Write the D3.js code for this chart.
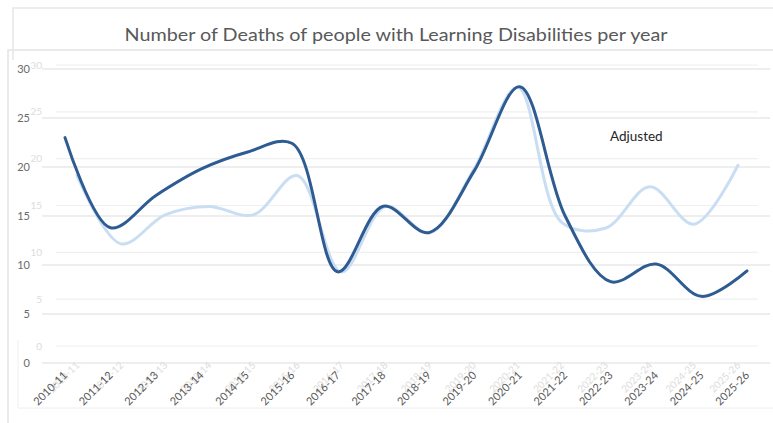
<!DOCTYPE html>
<html>
<head>
<meta charset="utf-8">
<script src="https://cdn.jsdelivr.net/npm/d3@7"></script>
<style>
  html, body { margin: 0; padding: 0; background: #fff; }
  svg { display: block; font-family: "Lato", "Open Sans", sans-serif; }
</style>
</head>
<body>
<svg id="chart" width="773" height="423"></svg>
<script>
const categories = ["2010-11","2011-12","2012-13","2013-14","2014-15","2015-16","2016-17","2017-18",
  "2018-19","2019-20","2020-21","2021-22","2022-23","2023-24","2024-25","2025-26"];
const actual   = [23.0, 13.8, 17.1, 19.8, 21.5, 22.4, 9.3, 16.0, 13.3, 19.6, 28.2, 15.0, 8.3, 10.1, 6.8, 9.4];
const adjusted = [18.2, 10.9, 14.0, 14.9, 14.0, 18.2, 7.9, 14.9, 12.1, 18.8, 27.6, 13.2, 12.6, 17.0, 13.0, 19.3];
const yTicks = [0, 5, 10, 15, 20, 25, 30];
const title = "Number of Deaths of people with Learning Disabilities per year";
const seriesLabel = "Adjusted";

const svg = d3.select("#chart");

// frames
svg.append("path").attr("d", "M13,60 V8 H773").attr("fill", "none").attr("stroke", "#e6e6e6").attr("stroke-width", 1.5);
svg.append("path").attr("d", "M773,50 H8 V423").attr("fill", "none").attr("stroke", "#e3e3e3").attr("stroke-width", 1.5);
svg.append("path").attr("d", "M18,340 V408 H773").attr("fill", "none").attr("stroke", "#eeeeee").attr("stroke-width", 1);

// title
svg.append("text").attr("x", 396).attr("y", 41).attr("text-anchor", "middle")
  .attr("font-size", 16.5).attr("fill", "#595959")
  .attr("textLength", 543).attr("lengthAdjust", "spacingAndGlyphs")
  .text(title);

// faded (background) chart scales
const xL = d3.scalePoint().domain(categories).range([77, 738]);
const yL = d3.scaleLinear().domain([0, 30]).range([346, 65]);
// main chart scales
const xD = d3.scalePoint().domain(categories).range([65, 747]);
const yD = d3.scaleLinear().domain([0, 30]).range([363, 69]);

// faded gridlines + labels
const gL = svg.append("g");
gL.selectAll("line").data(yTicks).join("line")
  .attr("x1", 56).attr("x2", 758).attr("y1", d => yL(d)).attr("y2", d => yL(d))
  .attr("stroke", "#f0f0f0").attr("stroke-width", 1.2);
gL.selectAll("text.yl").data(yTicks).join("text").attr("class", "yl")
  .attr("x", 42).attr("y", d => yL(d) + 3.5).attr("text-anchor", "end")
  .attr("font-size", 10).attr("fill", "#dcdcdc").text(d => d);
gL.selectAll("text.xl").data(categories).join("text").attr("class", "xl")
  .attr("text-anchor", "end").attr("font-size", 10).attr("fill", "#dcdcdc")
  .attr("transform", d => `translate(${xL(d) + 3},${366}) rotate(-45)`).text(d => d);

// main gridlines + labels
const gD = svg.append("g");
gD.selectAll("line").data(yTicks).join("line")
  .attr("x1", 42).attr("x2", 770).attr("y1", d => yD(d)).attr("y2", d => yD(d))
  .attr("stroke", "#dedede").attr("stroke-width", 1.2);
gD.selectAll("text.yl").data(yTicks).join("text").attr("class", "yl")
  .attr("x", 30).attr("y", d => yD(d) + 4).attr("text-anchor", "end")
  .attr("font-size", 11).attr("fill", "#6a6a6a").text(d => d);
gD.selectAll("text.xl").data(categories).join("text").attr("class", "xl")
  .attr("text-anchor", "end").attr("font-size", 11).attr("fill", "#595959")
  .attr("transform", d => `translate(${xD(d) + 3},${376}) rotate(-45)`).text(d => d);

// lines
const curve = d3.curveCatmullRom.alpha(0.5);
const lineL = d3.line().x((d, i) => xL(categories[i])).y(d => yL(d)).curve(curve);
const lineD = d3.line().x((d, i) => xD(categories[i])).y(d => yD(d)).curve(curve);

svg.append("path").datum(adjusted).attr("d", lineL)
  .attr("fill", "none").attr("stroke", "#c9def2").attr("stroke-width", 3).attr("stroke-linecap", "round");
svg.append("path").datum(actual).attr("d", lineD)
  .attr("fill", "none").attr("stroke", "#2e5b92").attr("stroke-width", 3).attr("stroke-linecap", "round");

svg.append("text").attr("x", 610).attr("y", 141).attr("font-size", 13.5).attr("fill", "#262626")
  .text(seriesLabel);
</script>
</body>
</html>
